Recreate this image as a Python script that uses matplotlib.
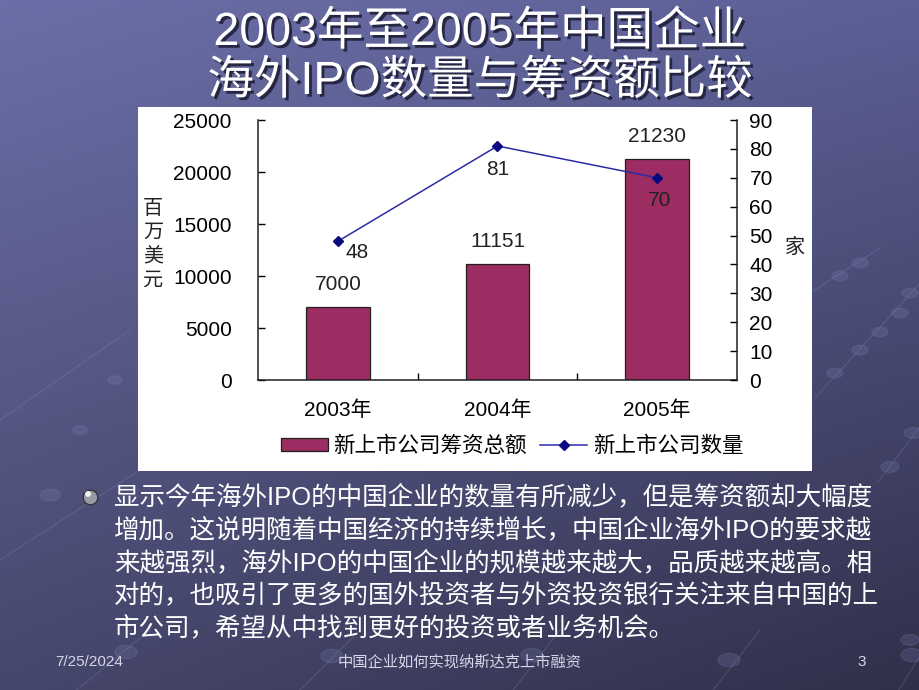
import numpy as np
import matplotlib
matplotlib.use("Agg")
import matplotlib.pyplot as plt
from matplotlib.patches import Rectangle, Ellipse
from matplotlib.lines import Line2D
import matplotlib.patheffects as pe

# ---------------- data ----------------
years = ['2003年', '2004年', '2005年']
funds = [7000, 11151, 21230]          # 百万美元
counts = [48, 81, 70]                 # 家
left_ticks = [0, 5000, 10000, 15000, 20000, 25000]
right_ticks = [0, 10, 20, 30, 40, 50, 60, 70, 80, 90]
bar_label = '新上市公司筹资总额'
line_label = '新上市公司数量'
ylabel_left = '百万美元'
ylabel_right = '家'
title_lines = ['2003年至2005年中国企业', '海外IPO数量与筹资额比较']
body_lines = [
    '显示今年海外IPO的中国企业的数量有所减少，但是筹资额却大幅度',
    '增加。这说明随着中国经济的持续增长，中国企业海外IPO的要求越',
    '来越强烈，海外IPO的中国企业的规模越来越大，品质越来越高。相',
    '对的，也吸引了更多的国外投资者与外资投资银行关注来自中国的上',
    '市公司，希望从中找到更好的投资或者业务机会。',
]
footer_date = '7/25/2024'
footer_title = '中国企业如何实现纳斯达克上市融资'
page_no = '3'

FAM = ['Liberation Sans', 'Noto Sans CJK SC', 'DejaVu Sans']
CJK = ['Noto Sans CJK SC', 'DejaVu Sans']
plt.rcParams['font.family'] = FAM

W, H = 920, 690
fig = plt.figure(figsize=(W / 100, H / 100), dpi=100)


def fx(x):
    return x / W


def fy(y):
    return 1 - y / H


# ---------------- background ----------------
bg = fig.add_axes([0, 0, 1, 1])
bg.set_axis_off()
nx, ny = 230, 172
X, Y = np.meshgrid(np.linspace(0, 1, nx), np.linspace(0, 1, ny))
TL = np.array([0x6b, 0x6f, 0xa7]) / 255
TR = np.array([0x5c, 0x5f, 0x95]) / 255
BL = np.array([0x46, 0x47, 0x6c]) / 255
BR = np.array([0x30, 0x30, 0x4a]) / 255
img = (TL * ((1 - X) * (1 - Y))[..., None] + TR * (X * (1 - Y))[..., None]
       + BL * ((1 - X) * Y)[..., None] + BR * (X * Y)[..., None])
bg.imshow(img, extent=[0, W, H, 0], aspect='auto', interpolation='bilinear', zorder=0)
bg.set_xlim(0, W)
bg.set_ylim(H, 0)

# faint decorative bead strings
deco_lines = [((810, 293), (880, 248)), ((815, 398), (925, 278)),
              ((878, 482), (925, 420)), ((40, 720), (150, 630)),
              ((270, 720), (360, 630)), ((490, 720), (560, 630)),
              ((690, 720), (760, 630)), ((880, 720), (930, 640)),
              ((0, 420), (130, 330)), ((0, 560), (140, 470))]
for (x0, y0), (x1, y1) in deco_lines:
    bg.plot([x0, x1], [y0, y1], color='#9a9cd0', lw=0.8, alpha=0.22, zorder=1)
beads = [(860, 263, 16), (840, 276, 16), (910, 293, 16), (900, 313, 16),
         (880, 332, 16), (860, 350, 16), (835, 373, 16), (913, 433, 18),
         (890, 467, 18), (910, 640, 18),
         (126, 652, 22), (332, 656, 22), (532, 655, 22), (729, 660, 22),
         (912, 655, 22), (50, 495, 20), (115, 380, 14), (80, 430, 14)]
for bx, by, bw in beads:
    bg.add_patch(Ellipse((bx, by), bw, bw * 0.6, color='#8587bd', alpha=0.2, zorder=1))

# white chart panel
bg.add_patch(Rectangle((138, 107), 674, 364, facecolor='white', edgecolor='none', zorder=2))

# ---------------- title ----------------
shadow = [pe.withSimplePatchShadow(offset=(2, -2), shadow_rgbFace='#20203a', alpha=0.9)]
fig.text(fx(480), fy(33), title_lines[0], fontsize=33.5, color='white', ha='center',
         va='center', family=FAM, path_effects=shadow)
fig.text(fx(480), fy(82), title_lines[1], fontsize=33.5, color='white', ha='center',
         va='center', family=FAM, path_effects=shadow)

# ---------------- chart ----------------
ax = fig.add_axes([fx(258), fy(380), (737 - 258) / W, (380 - 120) / H])
ax.set_facecolor('none')
xpos = np.arange(len(years))
ax.bar(xpos, funds, width=0.4, color='#9c2c61', edgecolor='#202020', linewidth=0.9, zorder=2)
ax.set_xlim(-0.5, len(years) - 0.5)
ax.set_ylim(left_ticks[0], left_ticks[-1])
ax.set_yticks(left_ticks)
ax.set_yticklabels([str(t) for t in left_ticks])
ax.set_xticks(xpos)
ax.set_xticklabels(years)
ax.set_xticks(xpos[:-1] + 0.5, minor=True)
ax.tick_params(axis='y', direction='in', length=5, width=1, pad=19, labelsize=15)
ax.tick_params(axis='x', which='major', length=0, pad=15, labelsize=15)
ax.tick_params(axis='x', which='minor', direction='in', length=5, width=1)
for s in ['top', 'right']:
    ax.spines[s].set_visible(False)
for s in ['left', 'bottom']:
    ax.spines[s].set_linewidth(1.1)
    ax.spines[s].set_color('#202020')

for xi, v in zip(xpos, funds):
    ax.annotate(str(v), (xi, v), xytext=(0, 16), textcoords='offset points',
                ha='center', va='center', fontsize=15, color='#222222')

ax2 = ax.twinx()
ax2.set_ylim(right_ticks[0], right_ticks[-1])
ax2.set_yticks(right_ticks)
ax2.set_yticklabels([str(t) for t in right_ticks])
ax2.plot(xpos, counts, color='#2b2ba6', lw=1.1, marker='D', ms=5.5,
         mfc='#0a0a80', mec='#0a0a80', zorder=3)
ax2.tick_params(axis='y', direction='in', length=5, width=1, pad=9, labelsize=15)
for s in ['top', 'left', 'bottom']:
    ax2.spines[s].set_visible(False)
ax2.spines['right'].set_linewidth(1.1)
ax2.spines['right'].set_color('#202020')
line_offsets = [(14, -8), (0, -17), (2, -16)]
for xi, v, off in zip(xpos, counts, line_offsets):
    ax2.annotate(str(v), (xi, v), xytext=off, textcoords='offset points',
                 ha='center', va='center', fontsize=15, color='#222222')

# axis titles (vertical stacked chars)
for i, ch in enumerate(ylabel_left):
    fig.text(fx(153), fy(208 + 24 * i), ch, fontsize=14.5, family=CJK,
             ha='center', va='center', color='#222222')
fig.text(fx(795), fy(247), ylabel_right, fontsize=14.5, family=CJK,
         ha='center', va='center', color='#222222')

# legend
handles = [Rectangle((0, 0), 1, 1, facecolor='#9c2c61', edgecolor='#202020', linewidth=0.9),
           Line2D([], [], color='#2b2ba6', lw=1.1, marker='D', ms=5.5,
                  mfc='#0a0a80', mec='#0a0a80')]
fig.legend(handles, [bar_label, line_label], loc='center',
           bbox_to_anchor=(fx(512), fy(446)), ncol=2, frameon=False,
           prop={'family': CJK, 'size': 15.5}, handlelength=2.2, handleheight=0.6,
           handletextpad=0.25, columnspacing=0.6, borderpad=0, borderaxespad=0)

# ---------------- bullet + body ----------------
bg.scatter([90], [497], s=110, color='#9a9aa2', edgecolor='#2a2a30', linewidth=0.8, zorder=3)
bg.scatter([88], [494], s=18, color='#f4f4f4', edgecolor='none', zorder=4)
for i, line in enumerate(body_lines):
    fig.text(fx(114), fy(497 + 33 * i), line, fontsize=18.4, color='white',
             ha='left', va='center', family=FAM)

# ---------------- footer ----------------
fig.text(fx(55), fy(662), footer_date, fontsize=11, color='#d6d6e8', ha='left',
         va='center', family=FAM)
fig.text(fx(460), fy(662), footer_title, fontsize=11, color='#d6d6e8', ha='center',
         va='center', family=CJK)
fig.text(fx(862), fy(662), page_no, fontsize=11, color='#d6d6e8', ha='center',
         va='center', family=FAM)

fig.savefig('out.png', dpi=100)
